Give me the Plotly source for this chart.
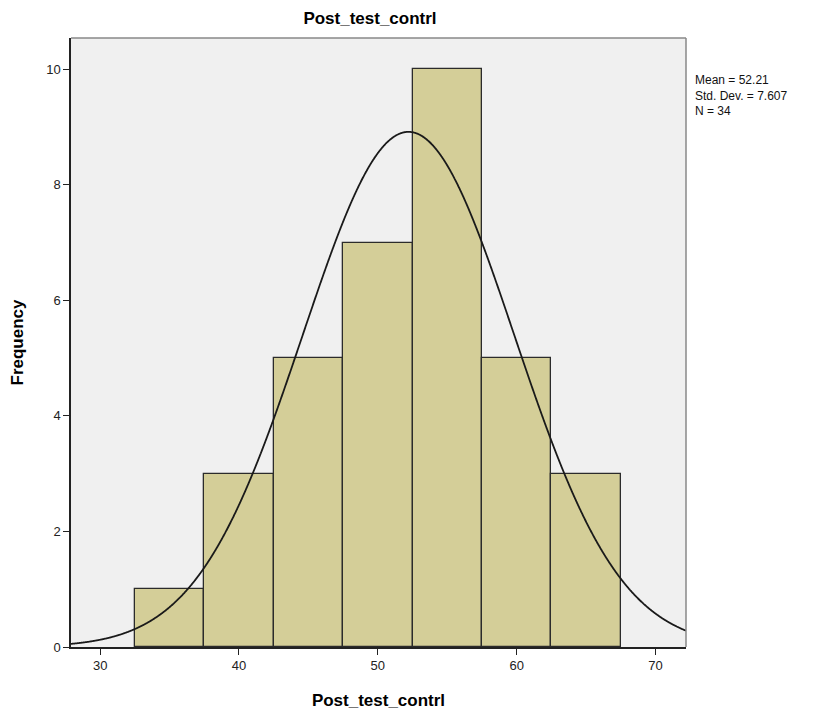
import numpy as np
import plotly.graph_objects as go

bin_centers = [35, 40, 45, 50, 55, 60, 65]
counts = [1, 3, 5, 7, 10, 5, 3]
bin_width = 5
mean = 52.21
sd = 7.607
n = 34
x_ticks = [30, 40, 50, 60, 70]
y_ticks = [0, 2, 4, 6, 8, 10]

xs = np.linspace(27.9, 72.2, 1200)
ys = n * bin_width * np.exp(-0.5 * ((xs - mean) / sd) ** 2) / (sd * np.sqrt(2 * np.pi))

fig = go.Figure()
fig.add_trace(go.Bar(x=bin_centers, y=counts, width=bin_width,
                     marker=dict(color="#D4CE98", line=dict(color="#2b2b2b", width=1.3)),
                     hoverinfo="x+y"))
fig.add_trace(go.Scatter(x=xs, y=ys, mode="lines", line=dict(color="#1a1a1a", width=1.8, shape="spline"),
                         hoverinfo="skip"))

font = "Liberation Sans, Arial, sans-serif"
fig.update_layout(
    width=820, height=714,
    margin=dict(l=71, r=134, t=38, b=67),
    paper_bgcolor="white", plot_bgcolor="#F0F0F0",
    showlegend=False, bargap=0,
    title=dict(text="<b>Post_test_contrl</b>", x=0.4512, xanchor="center", y=0.975, yanchor="middle",
               font=dict(family=font, size=17, color="black")),
    xaxis=dict(range=[27.9, 72.2], tickvals=x_ticks, ticks="outside", ticklen=6, tickwidth=1.3,
               tickcolor="#222", showline=True, linecolor="#222", linewidth=1.5, showgrid=False,
               zeroline=False, automargin=False, tickfont=dict(family=font, size=13, color="#222"),
               title=dict(text="<b>Post_test_contrl</b>", font=dict(family=font, size=17, color="black"),
                          standoff=22)),
    yaxis=dict(range=[0, 10.54], tickvals=y_ticks, ticks="outside", ticklen=6, tickwidth=1.3,
               tickcolor="#222", showline=True, linecolor="#222", linewidth=1.5, showgrid=False,
               zeroline=False, automargin=False, tickfont=dict(family=font, size=13, color="#222"),
               title=dict(text="<b>Frequency</b>", font=dict(family=font, size=17, color="black"),
                          standoff=18)),
    shapes=[dict(type="line", xref="paper", yref="paper", x0=0, x1=1, y0=1, y1=1,
                 line=dict(color="#888", width=1.5)),
            dict(type="line", xref="paper", yref="paper", x0=1, x1=1, y0=0, y1=1,
                 line=dict(color="#888", width=1.5))],
    annotations=[dict(text=f"Mean = {mean}<br>Std. Dev. = {sd}<br>N = {n}",
                      xref="paper", yref="paper", x=1.012, y=0.945, xanchor="left", yanchor="top",
                      showarrow=False, align="left",
                      font=dict(family=font, size=12, color="#111"))],
)
fig.write_html("out.html")
